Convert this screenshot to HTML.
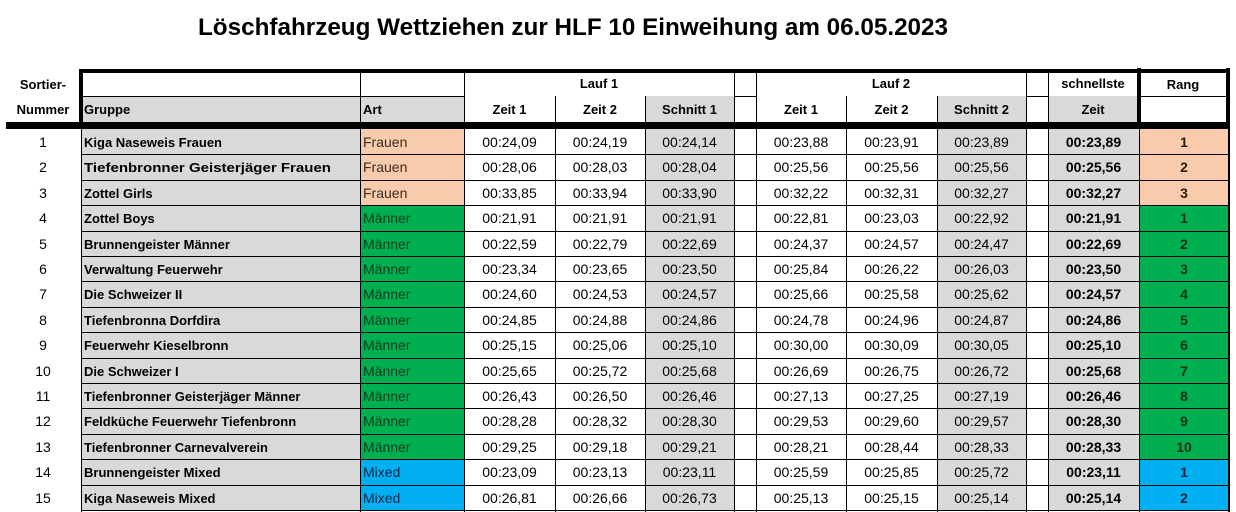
<!DOCTYPE html>
<html><head><meta charset="utf-8"><style>
html,body{margin:0;padding:0;background:#fff;}
svg{display:block;}
text{font-family:"Liberation Sans",sans-serif;fill:#000;}
.b{font-weight:bold;font-size:13px;}
.d{font-size:14px;}
.c{text-anchor:middle;}
.db{font-size:14px;font-weight:bold;}
</style></head><body>
<svg width="1236" height="512" viewBox="0 0 1236 512" xmlns="http://www.w3.org/2000/svg" shape-rendering="crispEdges">
<rect x="0" y="0" width="1236" height="512" fill="#fff"/>
<text x="198" y="35" font-size="24" font-weight="bold" textLength="750" lengthAdjust="spacingAndGlyphs">Löschfahrzeug Wettziehen zur HLF 10 Einweihung am 06.05.2023</text>

<g fill="#d9d9d9">
<rect x="82" y="96" width="278" height="26"/>
<rect x="360" y="96" width="104" height="26"/>
<rect x="645" y="96" width="89" height="26"/>
<rect x="937" y="96" width="89" height="26"/>
<rect x="1048" y="96" width="89" height="26"/>
</g>
<g fill="#000">
<rect x="82" y="96" width="382" height="1"/>
<rect x="734" y="96" width="22" height="1"/>
<rect x="1026" y="96" width="22" height="1"/>
<rect x="1141" y="96" width="85" height="1"/>
<rect x="360" y="73" width="1" height="49"/>
<rect x="464" y="73" width="1" height="49"/>
<rect x="734" y="73" width="1" height="49"/>
<rect x="756" y="73" width="1" height="49"/>
<rect x="1026" y="73" width="1" height="49"/>
<rect x="1048" y="73" width="1" height="49"/>
<rect x="555" y="96" width="1" height="26"/>
<rect x="645" y="96" width="1" height="26"/>
<rect x="846" y="96" width="1" height="26"/>
<rect x="937" y="96" width="1" height="26"/>
<rect x="79" y="69" width="1151" height="4"/>
<rect x="79" y="69" width="4" height="60"/>
<rect x="1137" y="68" width="4" height="56"/>
<rect x="1226" y="68" width="4" height="56"/>
<rect x="6" y="122" width="1224" height="7"/>
</g>
<text class="b c" x="43" y="89">Sortier-</text>
<text class="b c" x="43" y="114">Nummer</text>
<text class="b" x="84" y="114">Gruppe</text>
<text class="b" x="363" y="114">Art</text>
<text class="b c" x="599" y="88">Lauf 1</text>
<text class="b c" x="509.5" y="114">Zeit 1</text>
<text class="b c" x="600" y="114">Zeit 2</text>
<text class="b c" x="689.5" y="114">Schnitt 1</text>
<text class="b c" x="891" y="88">Lauf 2</text>
<text class="b c" x="801" y="114">Zeit 1</text>
<text class="b c" x="891.5" y="114">Zeit 2</text>
<text class="b c" x="981.5" y="114">Schnitt 2</text>
<text class="b c" x="1093" y="88">schnellste</text>
<text class="b c" x="1093" y="114">Zeit</text>
<text class="b c" x="1183" y="89">Rang</text>

<g fill="#d9d9d9">
<rect x="81" y="129" width="279" height="381"/>
<rect x="645" y="129" width="89" height="381"/>
<rect x="937" y="129" width="89" height="381"/>
<rect x="1048" y="129" width="91" height="381"/>
</g>
<rect x="360" y="129" width="104" height="76" fill="#f8cbad"/>
<rect x="1139" y="129" width="90" height="76" fill="#f8cbad"/>
<rect x="360" y="205" width="104" height="254" fill="#00b050"/>
<rect x="1139" y="205" width="90" height="254" fill="#00b050"/>
<rect x="360" y="459" width="104" height="51" fill="#00b0f0"/>
<rect x="1139" y="459" width="90" height="51" fill="#00b0f0"/>

<g fill="#000">
<rect x="81" y="129" width="1" height="383"/>
<rect x="360" y="129" width="1" height="383"/>
<rect x="464" y="129" width="1" height="383"/>
<rect x="555" y="129" width="1" height="383"/>
<rect x="645" y="129" width="1" height="383"/>
<rect x="734" y="129" width="1" height="383"/>
<rect x="756" y="129" width="1" height="383"/>
<rect x="846" y="129" width="1" height="383"/>
<rect x="937" y="129" width="1" height="383"/>
<rect x="1026" y="129" width="1" height="383"/>
<rect x="1048" y="129" width="1" height="383"/>
<rect x="1139" y="129" width="1" height="383"/>
<rect x="1228" y="129" width="2" height="383"/>
<rect x="81" y="154" width="1149" height="1"/>
<rect x="81" y="180" width="1149" height="1"/>
<rect x="81" y="205" width="1149" height="1"/>
<rect x="81" y="231" width="1149" height="1"/>
<rect x="81" y="256" width="1149" height="1"/>
<rect x="81" y="281" width="1149" height="1"/>
<rect x="81" y="307" width="1149" height="1"/>
<rect x="81" y="332" width="1149" height="1"/>
<rect x="81" y="358" width="1149" height="1"/>
<rect x="81" y="383" width="1149" height="1"/>
<rect x="81" y="408" width="1149" height="1"/>
<rect x="81" y="434" width="1149" height="1"/>
<rect x="81" y="459" width="1149" height="1"/>
<rect x="81" y="485" width="1149" height="1"/>
<rect x="81" y="510" width="1149" height="1"/>
</g>

<text class="d c" x="43" y="147">1</text>
<text class="d c" x="43" y="172">2</text>
<text class="d c" x="43" y="198">3</text>
<text class="d c" x="43" y="223">4</text>
<text class="d c" x="43" y="249">5</text>
<text class="d c" x="43" y="274">6</text>
<text class="d c" x="43" y="299">7</text>
<text class="d c" x="43" y="325">8</text>
<text class="d c" x="43" y="350">9</text>
<text class="d c" x="43" y="376">10</text>
<text class="d c" x="43" y="401">11</text>
<text class="d c" x="43" y="426">12</text>
<text class="d c" x="43" y="452">13</text>
<text class="d c" x="43" y="477">14</text>
<text class="d c" x="43" y="503">15</text>

<text class="b" x="84" y="147">Kiga Naseweis Frauen</text>
<text class="b" x="84" y="172" textLength="247" lengthAdjust="spacingAndGlyphs">Tiefenbronner Geisterjäger Frauen</text>
<text class="b" x="84" y="198">Zottel Girls</text>
<text class="b" x="84" y="223">Zottel Boys</text>
<text class="b" x="84" y="249">Brunnengeister Männer</text>
<text class="b" x="84" y="274">Verwaltung Feuerwehr</text>
<text class="b" x="84" y="299">Die Schweizer II</text>
<text class="b" x="84" y="325">Tiefenbronna Dorfdira</text>
<text class="b" x="84" y="350">Feuerwehr Kieselbronn</text>
<text class="b" x="84" y="376">Die Schweizer I</text>
<text class="b" x="84" y="401">Tiefenbronner Geisterjäger Männer</text>
<text class="b" x="84" y="426">Feldküche Feuerwehr Tiefenbronn</text>
<text class="b" x="84" y="452">Tiefenbronner Carnevalverein</text>
<text class="b" x="84" y="477">Brunnengeister Mixed</text>
<text class="b" x="84" y="503">Kiga Naseweis Mixed</text>

<text class="d" x="363" y="147" style="fill:#3a2a20">Frauen</text>
<text class="d" x="363" y="172" style="fill:#3a2a20">Frauen</text>
<text class="d" x="363" y="198" style="fill:#3a2a20">Frauen</text>
<text class="d" x="363" y="223" style="fill:#0b3d1e">Männer</text>
<text class="d" x="363" y="249" style="fill:#0b3d1e">Männer</text>
<text class="d" x="363" y="274" style="fill:#0b3d1e">Männer</text>
<text class="d" x="363" y="299" style="fill:#0b3d1e">Männer</text>
<text class="d" x="363" y="325" style="fill:#0b3d1e">Männer</text>
<text class="d" x="363" y="350" style="fill:#0b3d1e">Männer</text>
<text class="d" x="363" y="376" style="fill:#0b3d1e">Männer</text>
<text class="d" x="363" y="401" style="fill:#0b3d1e">Männer</text>
<text class="d" x="363" y="426" style="fill:#0b3d1e">Männer</text>
<text class="d" x="363" y="452" style="fill:#0b3d1e">Männer</text>
<text class="d" x="363" y="477" style="fill:#0a2a4a">Mixed</text>
<text class="d" x="363" y="503" style="fill:#0a2a4a">Mixed</text>

<text class="d c" x="509.5" y="147">00:24,09</text>
<text class="d c" x="509.5" y="172">00:28,06</text>
<text class="d c" x="509.5" y="198">00:33,85</text>
<text class="d c" x="509.5" y="223">00:21,91</text>
<text class="d c" x="509.5" y="249">00:22,59</text>
<text class="d c" x="509.5" y="274">00:23,34</text>
<text class="d c" x="509.5" y="299">00:24,60</text>
<text class="d c" x="509.5" y="325">00:24,85</text>
<text class="d c" x="509.5" y="350">00:25,15</text>
<text class="d c" x="509.5" y="376">00:25,65</text>
<text class="d c" x="509.5" y="401">00:26,43</text>
<text class="d c" x="509.5" y="426">00:28,28</text>
<text class="d c" x="509.5" y="452">00:29,25</text>
<text class="d c" x="509.5" y="477">00:23,09</text>
<text class="d c" x="509.5" y="503">00:26,81</text>

<text class="d c" x="600" y="147">00:24,19</text>
<text class="d c" x="600" y="172">00:28,03</text>
<text class="d c" x="600" y="198">00:33,94</text>
<text class="d c" x="600" y="223">00:21,91</text>
<text class="d c" x="600" y="249">00:22,79</text>
<text class="d c" x="600" y="274">00:23,65</text>
<text class="d c" x="600" y="299">00:24,53</text>
<text class="d c" x="600" y="325">00:24,88</text>
<text class="d c" x="600" y="350">00:25,06</text>
<text class="d c" x="600" y="376">00:25,72</text>
<text class="d c" x="600" y="401">00:26,50</text>
<text class="d c" x="600" y="426">00:28,32</text>
<text class="d c" x="600" y="452">00:29,18</text>
<text class="d c" x="600" y="477">00:23,13</text>
<text class="d c" x="600" y="503">00:26,66</text>

<text class="d c" x="689.5" y="147">00:24,14</text>
<text class="d c" x="689.5" y="172">00:28,04</text>
<text class="d c" x="689.5" y="198">00:33,90</text>
<text class="d c" x="689.5" y="223">00:21,91</text>
<text class="d c" x="689.5" y="249">00:22,69</text>
<text class="d c" x="689.5" y="274">00:23,50</text>
<text class="d c" x="689.5" y="299">00:24,57</text>
<text class="d c" x="689.5" y="325">00:24,86</text>
<text class="d c" x="689.5" y="350">00:25,10</text>
<text class="d c" x="689.5" y="376">00:25,68</text>
<text class="d c" x="689.5" y="401">00:26,46</text>
<text class="d c" x="689.5" y="426">00:28,30</text>
<text class="d c" x="689.5" y="452">00:29,21</text>
<text class="d c" x="689.5" y="477">00:23,11</text>
<text class="d c" x="689.5" y="503">00:26,73</text>

<text class="d c" x="801" y="147">00:23,88</text>
<text class="d c" x="801" y="172">00:25,56</text>
<text class="d c" x="801" y="198">00:32,22</text>
<text class="d c" x="801" y="223">00:22,81</text>
<text class="d c" x="801" y="249">00:24,37</text>
<text class="d c" x="801" y="274">00:25,84</text>
<text class="d c" x="801" y="299">00:25,66</text>
<text class="d c" x="801" y="325">00:24,78</text>
<text class="d c" x="801" y="350">00:30,00</text>
<text class="d c" x="801" y="376">00:26,69</text>
<text class="d c" x="801" y="401">00:27,13</text>
<text class="d c" x="801" y="426">00:29,53</text>
<text class="d c" x="801" y="452">00:28,21</text>
<text class="d c" x="801" y="477">00:25,59</text>
<text class="d c" x="801" y="503">00:25,13</text>

<text class="d c" x="891.5" y="147">00:23,91</text>
<text class="d c" x="891.5" y="172">00:25,56</text>
<text class="d c" x="891.5" y="198">00:32,31</text>
<text class="d c" x="891.5" y="223">00:23,03</text>
<text class="d c" x="891.5" y="249">00:24,57</text>
<text class="d c" x="891.5" y="274">00:26,22</text>
<text class="d c" x="891.5" y="299">00:25,58</text>
<text class="d c" x="891.5" y="325">00:24,96</text>
<text class="d c" x="891.5" y="350">00:30,09</text>
<text class="d c" x="891.5" y="376">00:26,75</text>
<text class="d c" x="891.5" y="401">00:27,25</text>
<text class="d c" x="891.5" y="426">00:29,60</text>
<text class="d c" x="891.5" y="452">00:28,44</text>
<text class="d c" x="891.5" y="477">00:25,85</text>
<text class="d c" x="891.5" y="503">00:25,15</text>

<text class="d c" x="981.5" y="147">00:23,89</text>
<text class="d c" x="981.5" y="172">00:25,56</text>
<text class="d c" x="981.5" y="198">00:32,27</text>
<text class="d c" x="981.5" y="223">00:22,92</text>
<text class="d c" x="981.5" y="249">00:24,47</text>
<text class="d c" x="981.5" y="274">00:26,03</text>
<text class="d c" x="981.5" y="299">00:25,62</text>
<text class="d c" x="981.5" y="325">00:24,87</text>
<text class="d c" x="981.5" y="350">00:30,05</text>
<text class="d c" x="981.5" y="376">00:26,72</text>
<text class="d c" x="981.5" y="401">00:27,19</text>
<text class="d c" x="981.5" y="426">00:29,57</text>
<text class="d c" x="981.5" y="452">00:28,33</text>
<text class="d c" x="981.5" y="477">00:25,72</text>
<text class="d c" x="981.5" y="503">00:25,14</text>

<text class="db c" x="1093.5" y="147">00:23,89</text>
<text class="db c" x="1093.5" y="172">00:25,56</text>
<text class="db c" x="1093.5" y="198">00:32,27</text>
<text class="db c" x="1093.5" y="223">00:21,91</text>
<text class="db c" x="1093.5" y="249">00:22,69</text>
<text class="db c" x="1093.5" y="274">00:23,50</text>
<text class="db c" x="1093.5" y="299">00:24,57</text>
<text class="db c" x="1093.5" y="325">00:24,86</text>
<text class="db c" x="1093.5" y="350">00:25,10</text>
<text class="db c" x="1093.5" y="376">00:25,68</text>
<text class="db c" x="1093.5" y="401">00:26,46</text>
<text class="db c" x="1093.5" y="426">00:28,30</text>
<text class="db c" x="1093.5" y="452">00:28,33</text>
<text class="db c" x="1093.5" y="477">00:23,11</text>
<text class="db c" x="1093.5" y="503">00:25,14</text>

<text class="db c" x="1184" y="147" style="fill:#2a1a10">1</text>
<text class="db c" x="1184" y="172" style="fill:#2a1a10">2</text>
<text class="db c" x="1184" y="198" style="fill:#2a1a10">3</text>
<text class="db c" x="1184" y="223" style="fill:#07301a">1</text>
<text class="db c" x="1184" y="249" style="fill:#07301a">2</text>
<text class="db c" x="1184" y="274" style="fill:#07301a">3</text>
<text class="db c" x="1184" y="299" style="fill:#07301a">4</text>
<text class="db c" x="1184" y="325" style="fill:#07301a">5</text>
<text class="db c" x="1184" y="350" style="fill:#07301a">6</text>
<text class="db c" x="1184" y="376" style="fill:#07301a">7</text>
<text class="db c" x="1184" y="401" style="fill:#07301a">8</text>
<text class="db c" x="1184" y="426" style="fill:#07301a">9</text>
<text class="db c" x="1184" y="452" style="fill:#07301a">10</text>
<text class="db c" x="1184" y="477" style="fill:#0a2040">1</text>
<text class="db c" x="1184" y="503" style="fill:#0a2040">2</text>
</svg>
</body></html>
